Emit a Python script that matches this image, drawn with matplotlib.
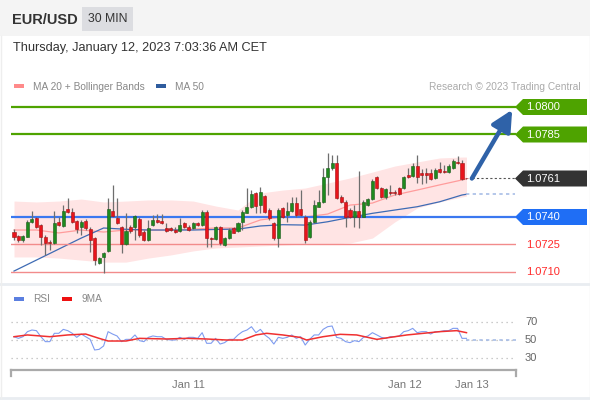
import matplotlib
matplotlib.use("Agg")
import matplotlib.pyplot as plt
from matplotlib.patches import Rectangle, Polygon
import numpy as np

plt.rcParams['font.family'] = ['Liberation Sans', 'DejaVu Sans']

# ---------------- data ----------------
opens = [1.07320, 1.07296, 1.07275, 1.07293, 1.07375, 1.07393, 1.07356, 1.07293, 1.07266, 1.07256,
         1.07375, 1.07351, 1.07444, 1.07425, 1.07378, 1.07344, 1.07378, 1.07333, 1.07284, 1.07151,
         1.07184, 1.07215, 1.07435, 1.07393, 1.07344, 1.07253, 1.07344, 1.07344, 1.07387, 1.07320,
         1.07275, 1.07356, 1.07384, 1.07378, 1.07338, 1.07338, 1.07329, 1.07326, 1.07365, 1.07344,
         1.07338, 1.07365, 1.07356, 1.07429, 1.07287, 1.07278, 1.07344, 1.07247, 1.07284, 1.07338,
         1.07326, 1.07375, 1.07424, 1.07456, 1.07529, 1.07465, 1.07515, 1.07438, 1.07365, 1.07284,
         1.07447, 1.07411, 1.07435, 1.07475, 1.07442, 1.07402, 1.07289, 1.07375, 1.07456, 1.07484,
         1.07620, 1.07665, 1.07696, 1.07511, 1.07484, 1.07438, 1.07398, 1.07435, 1.07402, 1.07465,
         1.07496, 1.07616, 1.07556, 1.07507, 1.07538, 1.07538, 1.07556, 1.07556, 1.07629, 1.07624,
         1.07678, 1.07638, 1.07638, 1.07638, 1.07611, 1.07660, 1.07653, 1.07647, 1.07665, 1.07702,
         1.07696, 1.07611]
highs = [1.07333, 1.07302, 1.07302, 1.07384, 1.07435, 1.07402, 1.07362, 1.07302, 1.07275, 1.07435,
         1.07402, 1.07465, 1.07502, 1.07447, 1.07384, 1.07384, 1.07387, 1.07344, 1.07293, 1.07184,
         1.07211, 1.07502, 1.07575, 1.07502, 1.07351, 1.07420, 1.07356, 1.07411, 1.07398, 1.07329,
         1.07384, 1.07411, 1.07416, 1.07416, 1.07369, 1.07347, 1.07344, 1.07393, 1.07375, 1.07356,
         1.07375, 1.07375, 1.07438, 1.07438, 1.07293, 1.07351, 1.07351, 1.07293, 1.07338, 1.07347,
         1.07375, 1.07438, 1.07556, 1.07547, 1.07538, 1.07565, 1.07520, 1.07447, 1.07375, 1.07447,
         1.07456, 1.07484, 1.07511, 1.07511, 1.07547, 1.07411, 1.07384, 1.07493, 1.07547, 1.07665,
         1.07747, 1.07738, 1.07738, 1.07520, 1.07493, 1.07447, 1.07465, 1.07653, 1.07493, 1.07502,
         1.07605, 1.07624, 1.07565, 1.07556, 1.07575, 1.07547, 1.07565, 1.07624, 1.07665, 1.07693,
         1.07738, 1.07660, 1.07665, 1.07660, 1.07665, 1.07702, 1.07684, 1.07689, 1.07715, 1.07733,
         1.07711, 1.07613]
lows = [1.07275, 1.07266, 1.07266, 1.07289, 1.07369, 1.07338, 1.07247, 1.07193, 1.07220, 1.07253,
        1.07351, 1.07344, 1.07420, 1.07369, 1.07311, 1.07302, 1.07329, 1.07211, 1.07138, 1.07144,
        1.07096, 1.07211, 1.07398, 1.07360, 1.07202, 1.07247, 1.07315, 1.07275, 1.07293, 1.07269,
        1.07269, 1.07351, 1.07369, 1.07362, 1.07320, 1.07324, 1.07315, 1.07320, 1.07338, 1.07326,
        1.07333, 1.07351, 1.07351, 1.07238, 1.07238, 1.07275, 1.07247, 1.07242, 1.07278, 1.07311,
        1.07320, 1.07329, 1.07420, 1.07451, 1.07424, 1.07424, 1.07424, 1.07384, 1.07275, 1.07235,
        1.07393, 1.07375, 1.07429, 1.07398, 1.07405, 1.07256, 1.07284, 1.07369, 1.07453, 1.07478,
        1.07520, 1.07656, 1.07496, 1.07478, 1.07344, 1.07393, 1.07347, 1.07338, 1.07398, 1.07460,
        1.07493, 1.07551, 1.07502, 1.07496, 1.07520, 1.07520, 1.07520, 1.07551, 1.07611, 1.07616,
        1.07587, 1.07580, 1.07587, 1.07602, 1.07605, 1.07638, 1.07638, 1.07642, 1.07660, 1.07689,
        1.07602, 1.07608]
closes = [1.07293, 1.07275, 1.07296, 1.07375, 1.07387, 1.07344, 1.07293, 1.07256, 1.07256, 1.07365,
          1.07356, 1.07435, 1.07425, 1.07375, 1.07333, 1.07375, 1.07338, 1.07275, 1.07166, 1.07175,
          1.07202, 1.07444, 1.07405, 1.07365, 1.07253, 1.07326, 1.07326, 1.07405, 1.07302, 1.07275,
          1.07338, 1.07384, 1.07375, 1.07369, 1.07326, 1.07329, 1.07320, 1.07356, 1.07344, 1.07329,
          1.07365, 1.07356, 1.07429, 1.07284, 1.07278, 1.07344, 1.07256, 1.07284, 1.07329, 1.07315,
          1.07365, 1.07429, 1.07456, 1.07525, 1.07460, 1.07538, 1.07429, 1.07393, 1.07284, 1.07438,
          1.07402, 1.07435, 1.07475, 1.07411, 1.07411, 1.07275, 1.07375, 1.07465, 1.07484, 1.07616,
          1.07665, 1.07696, 1.07502, 1.07484, 1.07402, 1.07402, 1.07435, 1.07402, 1.07484, 1.07496,
          1.07598, 1.07556, 1.07507, 1.07551, 1.07529, 1.07529, 1.07525, 1.07616, 1.07616, 1.07678,
          1.07616, 1.07629, 1.07629, 1.07605, 1.07656, 1.07647, 1.07647, 1.07678, 1.07707, 1.07693,
          1.07605, 1.07610]

band_idx = [1, 6, 11, 16, 21, 26, 31, 36, 41, 46, 51, 56, 61, 66, 71, 76, 81, 86, 91, 96, 101, 102]
bb_upper = [1.07487, 1.07482, 1.07487, 1.07498, 1.07482, 1.07487, 1.07493, 1.07493, 1.07487, 1.07460,
            1.07438, 1.07531, 1.07547, 1.07558, 1.07585, 1.07613, 1.07645, 1.07678, 1.07700, 1.07722,
            1.07727, 1.07727]
bb_lower = [1.07182, 1.07182, 1.07176, 1.07165, 1.07154, 1.07154, 1.07176, 1.07193, 1.07215, 1.07231,
            1.07236, 1.07242, 1.07247, 1.07253, 1.07253, 1.07258, 1.07285, 1.07373, 1.07449, 1.07482,
            1.07509, 1.07514]
ma20 = [1.07329, 1.07329, 1.07313, 1.07329, 1.07318, 1.07329, 1.07329, 1.07329, 1.07334, 1.07340,
        1.07340, 1.07384, 1.07400, 1.07400, 1.07416, 1.07465, 1.07476, 1.07520, 1.07547, 1.07575,
        1.07602, 1.07607]
ma50 = [1.07105, 1.07165, 1.07225, 1.07285, 1.07340, 1.07333, 1.07329, 1.07329, 1.07329, 1.07332,
        1.07334, 1.07351, 1.07358, 1.07356, 1.07374, 1.07398, 1.07420, 1.07438, 1.07456, 1.07483,
        1.07520, 1.07524]

rsi = [53.6, 51.8, 53.6, 59.1, 60.9, 60.2, 53.6, 48.2, 48.2, 57.3,
       57.3, 61.6, 60.2, 57.3, 52.9, 56.5, 53.6, 50.7, 39.1, 39.8,
       43.5, 59.1, 56.5, 54.4, 48.2, 50.7, 50.7, 55.5, 49.3, 48.2,
       52.9, 54.4, 53.6, 53.6, 50.7, 50.0, 50.0, 52.9, 50.7, 52.9,
       52.9, 51.8, 58.0, 46.4, 46.4, 51.8, 45.6, 47.1, 50.7, 50.7,
       55.5, 59.1, 60.9, 64.5, 58.0, 61.6, 55.5, 51.8, 45.6, 52.9,
       51.8, 52.9, 55.5, 51.8, 53.6, 44.5, 50.7, 55.5, 55.5, 61.6,
       64.5, 65.3, 52.9, 51.8, 48.2, 47.1, 49.3, 48.2, 52.9, 54.4,
       58.0, 55.5, 52.9, 51.8, 53.6, 53.6, 54.4, 59.1, 60.2, 62.7,
       58.0, 59.1, 59.1, 56.5, 59.1, 59.1, 60.2, 60.2, 62.7, 62.7,
       51.8, 51.8]
ma9_idx = [1, 4, 9, 13, 17, 20, 22, 26, 29, 35, 39.5, 44, 48.4, 52, 55, 57.4, 61, 64.8,
           66.3, 70, 73.8, 77.5, 82, 85, 88.7, 92.4, 96, 99.8, 102]
ma9 = [53.6, 55.5, 53.6, 55.5, 56.5, 51.8, 48.9, 48.9, 51.8, 51.1, 51.8, 51.1, 50.0, 50.0, 55.5,
       57.3, 55.5, 52.9, 50.0, 53.6, 56.2, 55.5, 50.7, 52.9, 55.5, 57.3, 59.1, 60.2, 58.0]

levels = [1.0800, 1.0785, 1.0761, 1.0740, 1.0725, 1.0710]
level_kinds = ['res', 'res', 'last', 'piv', 'sup', 'sup']
arrow_target = 1.07985
rsi_grid = [30, 50, 70]
date_ticks = [40.0, 88.3, 103.3]
date_labels = ['Jan 11', 'Jan 12', 'Jan 13']

# ---------------- figure ----------------
W, H = 590, 400
fig = plt.figure(figsize=(W / 100, H / 100), dpi=100)
fig.patch.set_facecolor('white')

def ax_rect(x0, y0, x1, y1):
    return [x0 / W, 1 - y1 / H, (x1 - x0) / W, (y1 - y0) / H]

ov = fig.add_axes([0, 0, 1, 1], zorder=0)
ov.set_xlim(0, W)
ov.set_ylim(H, 0)
ov.axis('off')

# header
ov.add_patch(Rectangle((0, 0), W, 36, color='#f4f4f4', lw=0))
ov.add_patch(Rectangle((82, 7), 51, 24, color='#dcdde1', lw=0))
ov.text(12, 19.5, 'EUR/USD', fontsize=10.5, fontweight='bold', color='#333333', va='center')
ov.text(88, 19.5, '30 MIN', fontsize=8.8, color='#333333', va='center')
ov.text(13, 48.5, 'Thursday, January 12, 2023 7:03:36 AM CET', fontsize=9.2, color='#333333', va='center')

# legend
ov.add_patch(Rectangle((14, 84), 10, 4, color='#ff8a8a', lw=0))
ov.text(33, 86.5, 'MA 20 + Bollinger Bands', fontsize=7.3, color='#888888', va='center')
ov.add_patch(Rectangle((156, 84), 10, 4, color='#2f5c9e', lw=0))
ov.text(175, 86.5, 'MA 50', fontsize=7.3, color='#888888', va='center')
ov.text(581, 86.5, 'Research \u00a9 2023 Trading Central', fontsize=7.3, color='#aaaaaa',
        va='center', ha='right')

# separators / frame
ov.plot([0, W], [284, 284], color='#e9edf1', lw=2)
ov.plot([0, W], [398, 398], color='#e9edf1', lw=2)
ov.plot([0.5, 0.5], [36, 398], color='#eeeeee', lw=1)
ov.plot([589.5, 589.5], [36, 398], color='#eeeeee', lw=1)

# RSI legend
ov.add_patch(Rectangle((14, 297), 10, 4, color='#5b7fe0', lw=0))
ov.text(33, 299, 'RSI', fontsize=7.3, color='#888888', va='center')
ov.add_patch(Rectangle((62, 297), 10, 4, color='#ee1111', lw=0))
ov.text(81, 299, '9MA', fontsize=7.3, color='#888888', va='center')

# ---------------- main price axes ----------------
x0px, x1px = 11, 516
first_px, step_px = 14, 4.48
xl = (1 - (first_px - x0px) / step_px, 1 + (x1px - first_px) / step_px)
ax = fig.add_axes(ax_rect(x0px, 95, x1px, 282), zorder=1)
ax.set_facecolor('none')
ax.set_xlim(*xl)
ppu = 18333.0
ax.set_ylim(1.0800 - 175 / ppu, 1.0800 + 12 / ppu)
ax.axis('off')

idx = np.arange(1, len(closes) + 1)

ax.fill_between(band_idx, bb_lower, bb_upper, color='#ffe4e4', lw=0, zorder=1)
ax.plot(band_idx, ma20, color='#ff9c9c', lw=0.9, zorder=2)
ax.plot(band_idx, ma50, color='#3e6bb4', lw=0.9, zorder=2)
ax.plot([band_idx[-1], xl[1] - 0.3], [ma50[-1], ma50[-1]], color='#a8bde6', lw=1.2,
        ls=(0, (2, 2)), zorder=2)

level_style = {
    'res': dict(color='#4ea300', lw=1.6),
    'piv': dict(color='#3b78f0', lw=1.6),
    'sup': dict(color='#f28b8b', lw=1.0),
}
for lv, kind in zip(levels, level_kinds):
    if kind == 'last':
        ax.plot([103.3, xl[1]], [lv, lv], color='#555555', lw=0.8, ls=(0, (2, 2)), zorder=3)
    else:
        ax.plot([xl[0], xl[1]], [lv, lv], zorder=3, **level_style[kind])

bw = 0.68
for i, o, h, l, c in zip(idx, opens, highs, lows, closes):
    up = c >= o
    col = '#1e8a1e' if up else '#e8141c'
    ec = '#1a5a1a' if up else '#a01010'
    ax.plot([i, i], [l, h], color='#6e6e6e', lw=0.9, zorder=4, solid_capstyle='butt')
    bot, top = min(o, c), max(o, c)
    hgt = max(top - bot, 0.000012)
    ax.add_patch(Rectangle((i - bw / 2, bot), bw, hgt, facecolor=col, edgecolor=ec,
                           lw=0.4, zorder=5))

ax.annotate('', xy=(112.2, arrow_target), xytext=(103.2, levels[2]),
            arrowprops=dict(arrowstyle='-|>,head_length=0.9,head_width=0.45',
                            color='#2f62a8', lw=3.2, mutation_scale=14, shrinkA=0, shrinkB=0),
            annotation_clip=False, zorder=6)

# price labels (in overlay pixel coords)
def price_to_px(p):
    return H - ax.transData.transform((xl[0], p))[1]

box_col = {'res': '#4ea300', 'last': '#333333', 'piv': '#1f6ef5'}
for lv, kind in zip(levels, level_kinds):
    yp = price_to_px(lv)
    if kind in box_col:
        poly = Polygon([(515, yp), (523, yp - 8), (587, yp - 8), (587, yp + 8), (523, yp + 8)],
                       closed=True, color=box_col[kind], lw=0)
        ov.add_patch(poly)
        ov.text(526, yp + 0.5, f'{lv:.4f}', fontsize=8, color='white', va='center')
    else:
        ov.text(526, yp + 0.5, f'{lv:.4f}', fontsize=8, color='#ff2a2a', va='center')

# ---------------- RSI axes ----------------
rx = fig.add_axes(ax_rect(x0px, 305, x1px, 370), zorder=1)
rx.set_facecolor('none')
rx.set_xlim(*xl)
rppu = 18.33 / 20
rx.set_ylim(50 - 30 / rppu, 50 + 35 / rppu)
for s in ['top', 'left', 'right']:
    rx.spines[s].set_visible(False)
rx.spines['bottom'].set_color('#aaaaaa')
rx.spines['bottom'].set_linewidth(1.6)
rx.set_yticks([])
rx.set_xticks(date_ticks)
rx.set_xticklabels(date_labels, fontsize=8, color='#777777')
rx.tick_params(axis='x', length=0, pad=7)
for g in rsi_grid:
    rx.plot([xl[0], xl[1]], [g, g], color='#bbbbbb', lw=0.9, ls=(0, (1, 3)), zorder=1)
    ov.text(525, H - rx.transData.transform((0, g))[1], str(g), fontsize=8, color='#666666',
            va='center')
rx.plot(idx, rsi, color='#7f9cf0', lw=0.8, zorder=3)
rx.plot(ma9_idx, ma9, color='#f03030', lw=1.1, zorder=4)
rx.plot([idx[-1], xl[1]], [50, 50], color='#a8bde6', lw=1.2, ls=(0, (2, 2)), zorder=2)
# end ticks of the axis line
for xe in xl:
    rx.plot([xe, xe], [50 - 30 / rppu, 50 - 36 / rppu], color='#aaaaaa', lw=1.6,
            clip_on=False, zorder=3)

fig.savefig('out.png', dpi=100, facecolor='white')
